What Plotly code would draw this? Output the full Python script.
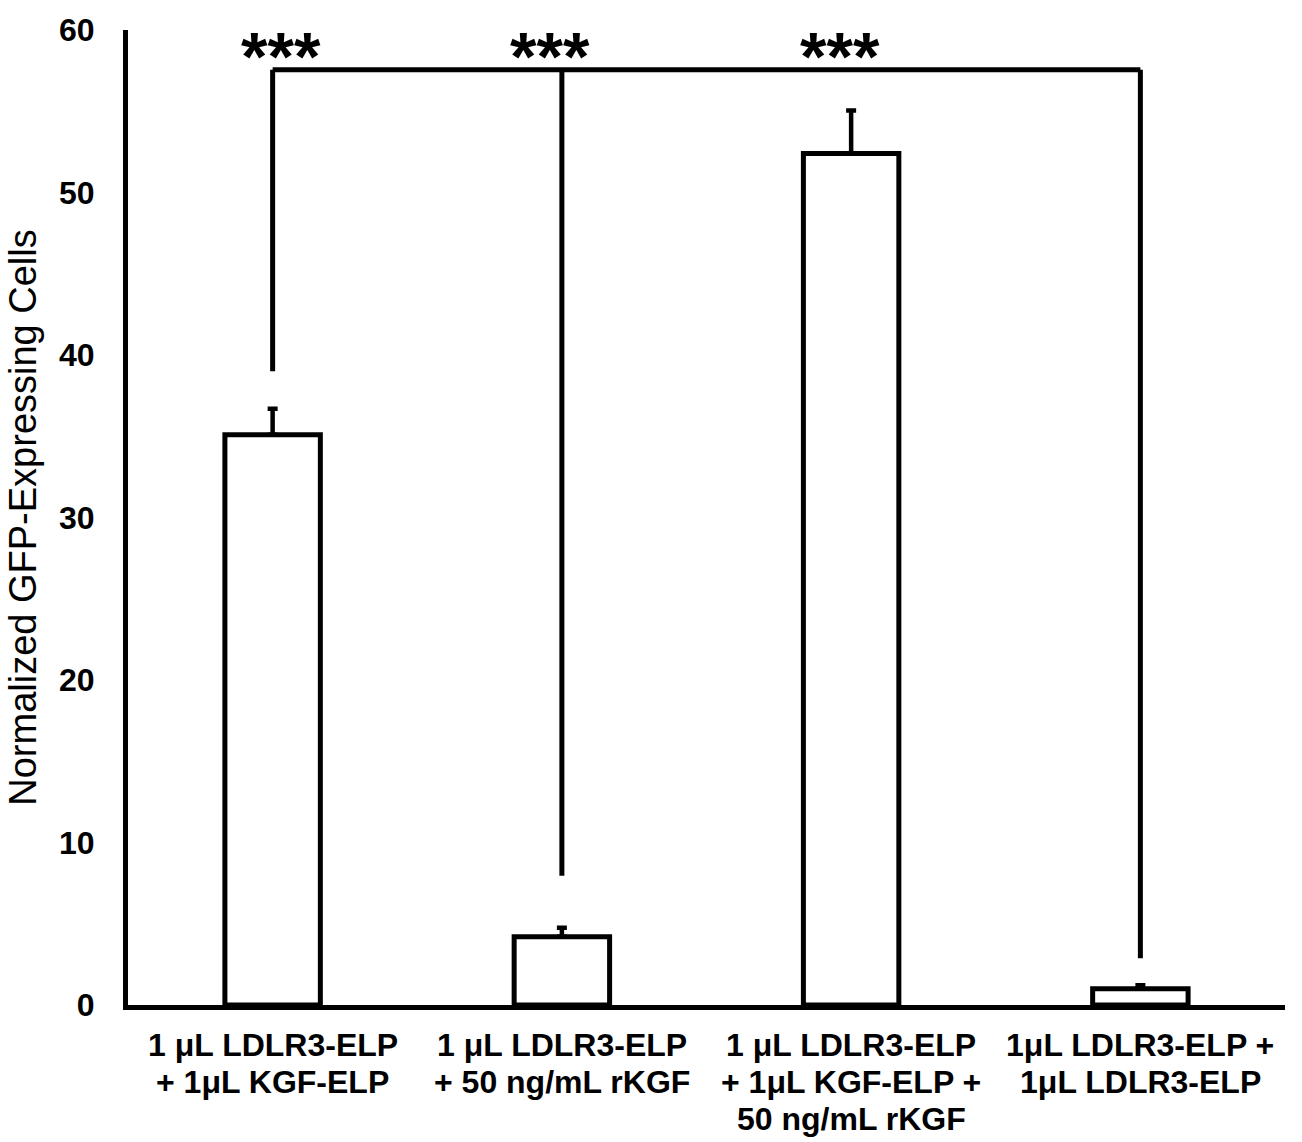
import plotly.graph_objects as go

categories = [["1 μL LDLR3-ELP", "+ 1μL KGF-ELP"],
              ["1 μL LDLR3-ELP", "+ 50 ng/mL rKGF"],
              ["1 μL LDLR3-ELP", "+ 1μL KGF-ELP +", "50 ng/mL rKGF"],
              ["1μL LDLR3-ELP +", "1μL LDLR3-ELP"]]
means = [35.1, 4.2, 52.4, 1.0]
errors = [1.6, 0.55, 2.65, 0.22]
y_ticks = [0, 10, 20, 30, 40, 50, 60]

# significance bracket: horizontal level, and drop ends for compared groups
bracket_level = 57.55
bracket_groups = [0, 1, 3]
bracket_ends = [39.0, 7.96, 2.88]
star_x = [0.03, 0.96, 1.96]
star_text = ["***", "***", "***"]

xpos = list(range(len(categories)))
FONT = "Liberation Sans, Arial, sans-serif"

fig = go.Figure()
fig.add_trace(go.Bar(
    x=xpos, y=means, width=0.33,
    marker=dict(color="white", line=dict(color="black", width=5)),
    error_y=dict(type="data", symmetric=False, array=errors,
                 arrayminus=[0] * len(errors), color="black",
                 thickness=4.5, width=5),
    showlegend=False,
))

fig.add_trace(go.Scatter(
    x=[bracket_groups[0], bracket_groups[-1]],
    y=[bracket_level, bracket_level],
    mode="lines", line=dict(color="black", width=5), showlegend=False))
for g, e in zip(bracket_groups, bracket_ends):
    fig.add_trace(go.Scatter(
        x=[g, g], y=[bracket_level, e],
        mode="lines", line=dict(color="black", width=5), showlegend=False))

for sx, st in zip(star_x, star_text):
    fig.add_annotation(x=sx, y=bracket_level, text="<b>" + st + "</b>",
                       showarrow=False, yanchor="middle", yshift=14,
                       font=dict(size=68, color="black", family=FONT))

# category labels, one annotation per line
for i, lines in enumerate(categories):
    for j, line in enumerate(lines):
        fig.add_annotation(x=i, y=0, text="<b>" + line + "</b>",
                           showarrow=False, yanchor="middle",
                           yshift=-(40 + 37 * j),
                           font=dict(size=32, color="black", family=FONT))

fig.update_layout(
    width=1302, height=1142,
    margin=dict(l=128, r=17, t=22, b=137),
    paper_bgcolor="white", plot_bgcolor="white",
    font=dict(family=FONT, color="black"),
)
fig.update_xaxes(
    range=[-0.5, 3.5], tickvals=xpos, showticklabels=False,
    showgrid=False, zeroline=False,
    showline=True, linecolor="black", linewidth=5, ticks="",
)
fig.update_yaxes(
    range=[0, 60], tickvals=y_ticks,
    ticktext=["<b>%d</b>" % v for v in y_ticks],
    tickfont=dict(size=32), showgrid=False, zeroline=False,
    showline=True, linecolor="black", linewidth=5,
    ticks="outside", ticklen=22, tickcolor="rgba(0,0,0,0)",
    title=dict(text="Normalized GFP-Expressing Cells", font=dict(size=38), standoff=12),
)

fig.write_html("out.html")
